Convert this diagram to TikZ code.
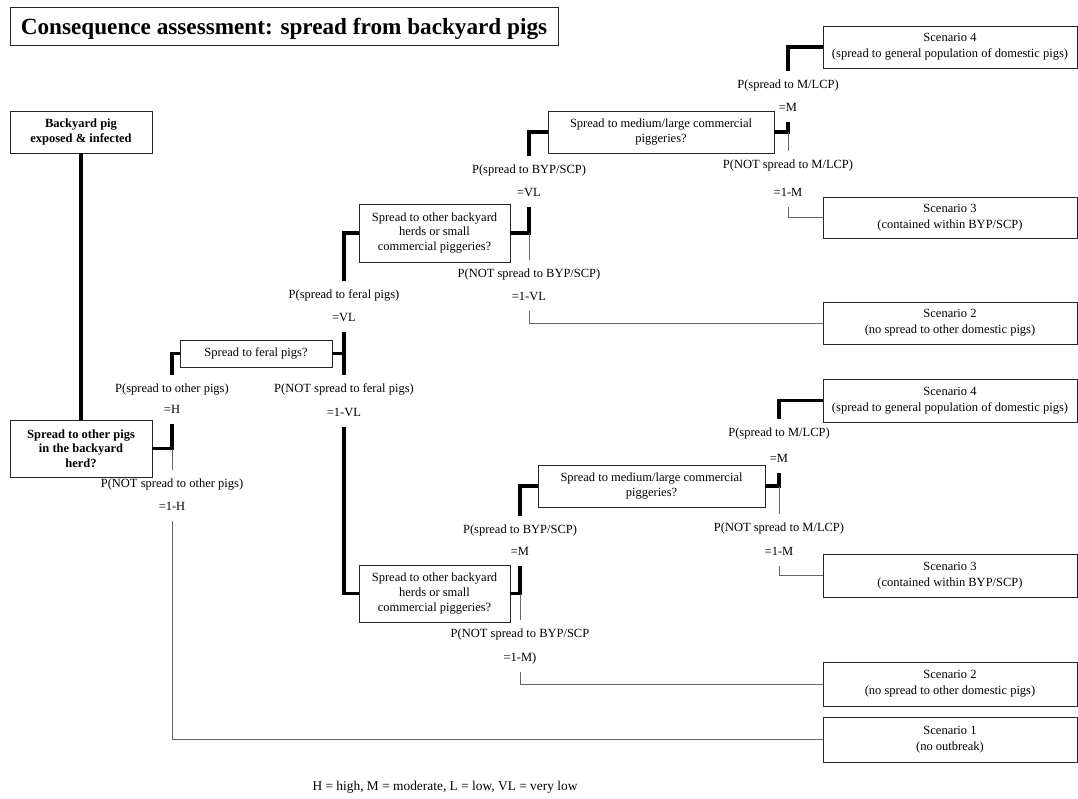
\documentclass[tikz,border=0pt]{standalone}
\usepackage{fontspec}
\setmainfont{Liberation Serif}
\begin{document}
\begin{tikzpicture}[x=1pt,y=-1pt,
  box/.style={draw=black!85, line width=0.8pt, fill=white, align=center, inner sep=0pt,
              font=\fontsize{12.5}{15}\selectfont},
  bbox/.style={box, font=\bfseries\fontsize{12.5}{14.5}\selectfont},
  decision/.style={box, font=\fontsize{12.5}{14.8}\selectfont},
  scenario/.style={box, minimum width=254pt, font=\fontsize{12.5}{16}\selectfont},
  lbl/.style={inner xsep=1pt, inner ysep=8pt, text height=9pt, text depth=3pt,
              font=\fontsize{12.5}{15}\selectfont},
  yes/.style={line width=3.4pt, line join=miter, draw=black},
  no/.style={line width=1pt, draw=black!60},
]
\fill[white] (0,0) rectangle (1078,798);
\useasboundingbox (0,0) rectangle (1078,798);

% title
\node[box, minimum width=548pt, minimum height=38pt, text height=16pt, text depth=0pt,
      font=\bfseries\fontsize{23.2}{27}\selectfont]
  (title) at (284,26) {Consequence assessment: spread from backyard pigs};

% start and first question
\node[bbox, minimum width=142pt, minimum height=42pt] (root) at (81,132) {Backyard pig\\exposed \& infected};
\node[bbox, minimum width=142pt, minimum height=57pt] (q1) at (81,448.5) {Spread to other pigs\\in the backyard\\herd?};

% decision boxes
\node[decision, minimum width=152pt, minimum height=27pt] (feral) at (256,353.5) {Spread to feral pigs?};
\node[decision, minimum width=151pt, minimum height=58pt] (byp1) at (434.5,233) {Spread to other backyard\\herds or small\\commercial piggeries?};
\node[decision, minimum width=226pt, minimum height=42pt] (mlcp1) at (661,132) {Spread to medium/large commercial\\piggeries?};
\node[decision, minimum width=151pt, minimum height=57pt] (byp2) at (434.5,593.5) {Spread to other backyard\\herds or small\\commercial piggeries?};
\node[decision, minimum width=227pt, minimum height=42pt] (mlcp2) at (651.5,486) {Spread to medium/large commercial\\piggeries?};

% outcomes
\node[scenario, minimum height=42pt] (s4a) at (950,47) {Scenario 4\\(spread to general population of domestic pigs)};
\node[scenario, minimum height=41pt] (s3a) at (950,217.5) {Scenario 3\\(contained within BYP/SCP)};
\node[scenario, minimum height=42pt] (s2a) at (950,323) {Scenario 2\\(no spread to other domestic pigs)};
\node[scenario, minimum height=43pt] (s4b) at (950,400.5) {Scenario 4\\(spread to general population of domestic pigs)};
\node[scenario, minimum height=43pt] (s3b) at (950,575.5) {Scenario 3\\(contained within BYP/SCP)};
\node[scenario, minimum height=44pt] (s2b) at (950,684) {Scenario 2\\(no spread to other domestic pigs)};
\node[scenario, minimum height=45pt] (s1) at (950,739.5) {Scenario 1\\(no outbreak)};

% probability labels
\node[lbl] (p1y) at (172,389) {P(spread to other pigs)};
\node[lbl] (e1y) at (172,410) {=H};
\node[lbl] (p1n) at (172,484) {P(NOT spread to other pigs)};
\node[lbl] (e1n) at (172,507) {=1-H};

\node[lbl] (p2y) at (344,295) {P(spread to feral pigs)};
\node[lbl] (e2y) at (344,318) {=VL};
\node[lbl] (p2n) at (344,389) {P(NOT spread to feral pigs)};
\node[lbl] (e2n) at (344,413) {=1-VL};

\node[lbl] (p3y) at (529,170) {P(spread to BYP/SCP)};
\node[lbl] (e3y) at (529,193) {=VL};
\node[lbl] (p3n) at (529,274) {P(NOT spread to BYP/SCP)};
\node[lbl] (e3n) at (529,297) {=1-VL};

\node[lbl] (p4y) at (788,85) {P(spread to M/LCP)};
\node[lbl] (e4y) at (788,108) {=M};
\node[lbl] (p4n) at (788,165) {P(NOT spread to M/LCP)};
\node[lbl] (e4n) at (788,193) {=1-M};

\node[lbl] (p5y) at (520,530) {P(spread to BYP/SCP)};
\node[lbl] (e5y) at (520,552) {=M};
\node[lbl] (p5n) at (520,634) {P(NOT spread to BYP/SCP};
\node[lbl] (e5n) at (520,658) {=1-M)};

\node[lbl] (p6y) at (779,433) {P(spread to M/LCP)};
\node[lbl] (e6y) at (779,459) {=M};
\node[lbl] (p6n) at (779,528) {P(NOT spread to M/LCP)};
\node[lbl] (e6n) at (779,552) {=1-M};

% key
\node[font=\fontsize{13.4}{16}\selectfont] (key) at (445,787) {H = high, M = moderate, L = low, VL = very low};

% connectors
\draw[yes] (root.south) -- (q1.north);

\draw[yes] (q1.east) -| (e1y.south);
\draw[yes] (p1y.north) |- (feral.west);
\draw[no] (q1.east -| p1n.north) -- (p1n.north);
\draw[no] (e1n.south) |- (s1.west);

\draw[yes] (feral.east) -| (e2y.south);
\draw[yes] (p2y.north) |- (byp1.west);
\draw[yes] (feral.east -| p2n.north) -- (p2n.north);
\draw[yes] (e2n.south) |- (byp2.west);

\draw[yes] (byp1.east) -| (e3y.south);
\draw[yes] (p3y.north) |- (mlcp1.west);
\draw[no] (byp1.east -| p3n.north) -- (p3n.north);
\draw[no] (e3n.south) |- (s2a.west);

\draw[yes] (mlcp1.east) -| (e4y.south);
\draw[yes] (p4y.north) |- (s4a.west);
\draw[no] (mlcp1.east -| p4n.north) -- (p4n.north);
\draw[no] (e4n.south) |- (s3a.west);

\draw[yes] (byp2.east) -| (e5y.south);
\draw[yes] (p5y.north) |- (mlcp2.west);
\draw[no] (byp2.east -| p5n.north) -- (p5n.north);
\draw[no] (e5n.south) |- (s2b.west);

\draw[yes] (mlcp2.east) -| (e6y.south);
\draw[yes] (p6y.north) |- (s4b.west);
\draw[no] (mlcp2.east -| p6n.north) -- (p6n.north);
\draw[no] (e6n.south) |- (s3b.west);
\end{tikzpicture}
\end{document}
